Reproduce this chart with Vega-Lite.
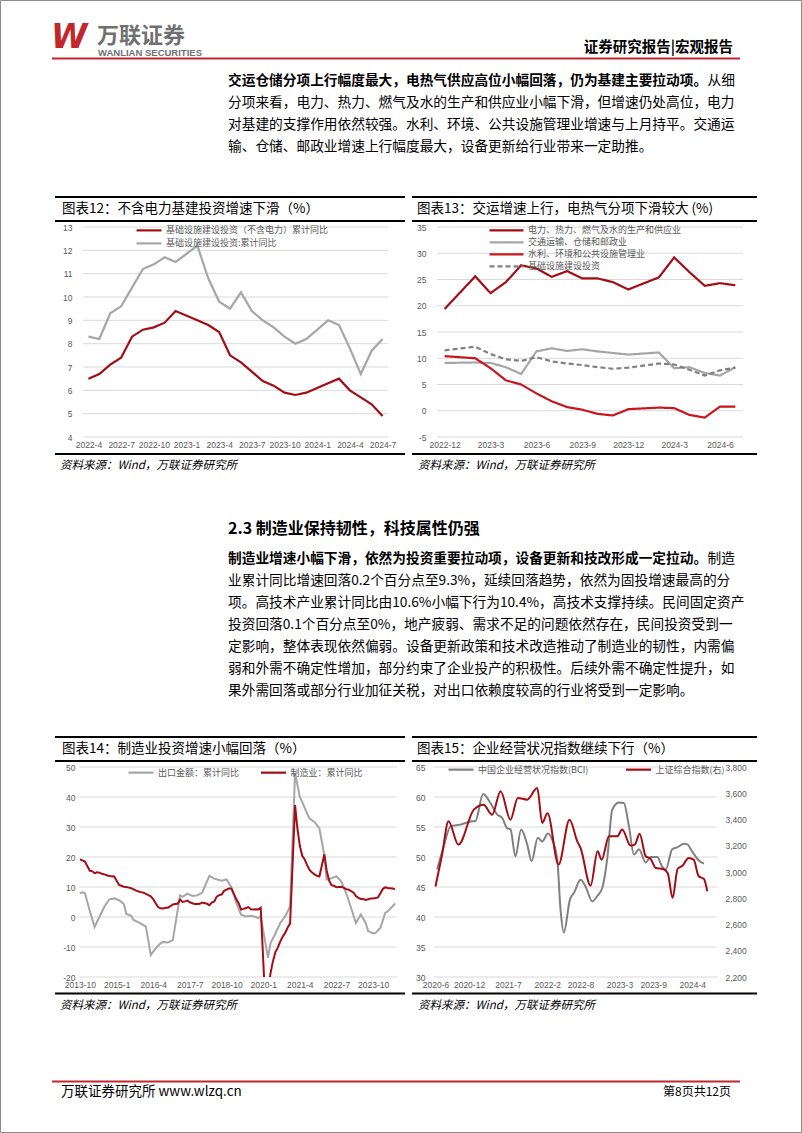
{
"$schema":"https://vega.github.io/schema/vega-lite/v6.json",
"background":"#ffffff","padding":0,"spacing":0,"bounds":"flush","columns":5,
"align":"each",
"resolve":{"scale":{"color":"independent","strokeDash":"independent"},"legend":{"color":"independent","strokeDash":"independent"}},
"config":{"view":{"stroke":null},"font":"Noto Sans CJK SC","text":{"font":"Noto Sans CJK SC"},
"axis":{"labelFont":"Liberation Sans","labelFontSize":8.5,"labelColor":"#595959","ticks":false,"domain":false,"grid":false},
"legend":{"labelFont":"Noto Sans CJK SC","labelFontSize":9,"labelColor":"#595959","symbolStrokeWidth":2.2}},
"concat":[
{"width":55,"height":62,"resolve":{"scale":{"x":"independent","y":"independent"}},
"layer":[
{"data":{"values":[{"p":"page"}]},"mark":{"type":"rect","fill":null,"stroke":"#8c8c8c","strokeWidth":1},
"encoding":{"x":{"datum":"a","type":"nominal","scale":{"type":"point","domain":["a","b"],"range":[0.5,801.5],"padding":0},"axis":null},"x2":{"datum":"b"},"y":{"datum":"a","type":"nominal","scale":{"type":"point","domain":["a","b"],"range":[0.5,1132.5],"padding":0},"axis":null},"y2":{"datum":"b"}}},
{"data":{"values":[{"t":"W"}]},"mark":{"type":"text","align":"left","baseline":"middle","font":"DejaVu Sans","fontWeight":"bold","fontStyle":"italic","fontSize":33,"color":"#c1272d"},
"encoding":{"text":{"field":"t"},"x":{"datum":"a","type":"nominal","scale":{"type":"point","domain":["a","b"],"range":[51,60],"padding":0},"axis":null},"y":{"datum":"a","type":"nominal","scale":{"type":"point","domain":["a","b"],"range":[38,40],"padding":0},"axis":null}}},
{"data":{"values":[{"t":"万联证券"}]},"mark":{"type":"text","align":"left","baseline":"middle","fontWeight":"bold","fontSize":22,"color":"#707070"},
"encoding":{"text":{"field":"t"},"x":{"datum":"a","type":"nominal","scale":{"type":"point","domain":["a","b"],"range":[97,110],"padding":0},"axis":null},"y":{"datum":"a","type":"nominal","scale":{"type":"point","domain":["a","b"],"range":[35.5,40],"padding":0},"axis":null}}},
{"data":{"values":[{"t":"WANLIAN SECURITIES"}]},"mark":{"type":"text","align":"left","baseline":"middle","font":"Liberation Sans","fontWeight":"bold","fontSize":9.5,"color":"#707070"},
"encoding":{"text":{"field":"t"},"x":{"datum":"a","type":"nominal","scale":{"type":"point","domain":["a","b"],"range":[98,110],"padding":0},"axis":null},"y":{"datum":"a","type":"nominal","scale":{"type":"point","domain":["a","b"],"range":[52.5,55],"padding":0},"axis":null}}},
{"data":{"values":[{"t":"证券研究报告|宏观报告"}]},"mark":{"type":"text","align":"right","baseline":"middle","fontWeight":"bold","fontSize":14.5,"color":"#000000"},
"encoding":{"text":{"field":"t"},"x":{"datum":"b","type":"nominal","scale":{"type":"point","domain":["a","b"],"range":[600,733],"padding":0},"axis":null},"y":{"datum":"a","type":"nominal","scale":{"type":"point","domain":["a","b"],"range":[48,52],"padding":0},"axis":null}}},
{"data":{"values":[{"p":"r"}]},"mark":{"type":"rule","color":"#c1272d","strokeWidth":2},
"encoding":{"x":{"datum":"a","type":"nominal","scale":{"type":"point","domain":["a","b"],"range":[52,740],"padding":0},"axis":null},"x2":{"datum":"b"},"y":{"field":"p","type":"nominal","scale":{"type":"point","domain":["r","s"],"range":[58.5,60],"padding":0},"axis":null}}}
]},
{"width":350,"height":62,"data":{"values":[]},"mark":"text"},
{"width":7,"height":62,"data":{"values":[]},"mark":"text"},
{"width":345,"height":62,"data":{"values":[]},"mark":"text"},
{"width":45,"height":62,"data":{"values":[]},"mark":"text"},
{"width":55,"height":133,
"data":{"values":[
{"line":0,"k":"b","t":"交运仓储分项上行幅度最大，电热气供应高位小幅回落，仍为基建主要拉动项。"},
{"line":0,"k":"e","t":"从细"},
{"line":1,"k":"r","t":"分项来看，电力、热力、燃气及水的生产和供应业小幅下滑，但增速仍处高位，电力"},
{"line":2,"k":"r","t":"对基建的支撑作用依然较强。水利、环境、公共设施管理业增速与上月持平。交通运"},
{"line":3,"k":"r","t":"输、仓储、邮政业增速上行幅度最大，设备更新给行业带来一定助推。"}]},
"encoding":{"y":{"field":"line","type":"ordinal","scale":{"type":"point","domain":[0,1,2,3],"range":[19,85],"padding":0},"axis":null},"text":{"field":"t"}},
"layer":[
{"transform":[{"filter":"datum.k === 'b'"}],"mark":{"type":"text","align":"left","baseline":"middle","fontSize":13.7,"fontWeight":"bold","color":"#000000"},
"encoding":{"x":{"datum":"start","type":"nominal","scale":{"type":"point","domain":["start","end"],"range":[228,735],"padding":0},"axis":null}}},
{"transform":[{"filter":"datum.k === 'e'"}],"mark":{"type":"text","align":"right","baseline":"middle","fontSize":13.7,"color":"#000000"},
"encoding":{"x":{"datum":"end","type":"nominal","scale":{"type":"point","domain":["start","end"],"range":[228,735],"padding":0},"axis":null}}},
{"transform":[{"filter":"datum.k === 'r'"}],"mark":{"type":"text","align":"left","baseline":"middle","fontSize":13.7,"color":"#000000"},
"encoding":{"x":{"datum":"start","type":"nominal","scale":{"type":"point","domain":["start","end"],"range":[228,735],"padding":0},"axis":null}}}
]},
{"width":350,"height":133,"data":{"values":[]},"mark":"text"},
{"width":7,"height":133,"data":{"values":[]},"mark":"text"},
{"width":345,"height":133,"data":{"values":[]},"mark":"text"},
{"width":45,"height":133,"data":{"values":[]},"mark":"text"},
{"width":55,"height":32,"data":{"values":[]},"mark":"text"},
{"width":350,"height":32,"layer":[
{"data":{"values":[{"p":"top"},{"p":"bottom"}]},"mark":{"type":"rule","color":"#000000","strokeWidth":2},"encoding":{"y":{"field":"p","type":"nominal","scale":{"type":"point","domain":["top","title","bottom"],"range":[2,26],"padding":0},"axis":null}}},
{"data":{"values":[{"t":"图表12：不含电力基建投资增速下滑（%）","p":"title"}]},"mark":{"type":"text","align":"left","baseline":"middle","fontSize":13.5,"color":"#000000"},
"encoding":{"text":{"field":"t"},"x":{"datum":"start","type":"nominal","scale":{"type":"point","domain":["start","end"],"range":[7,345],"padding":0},"axis":null},"y":{"field":"p","type":"nominal","scale":{"type":"point","domain":["top","title","bottom"],"range":[2,26],"padding":0},"axis":null}}}]},
{"width":7,"height":32,"data":{"values":[]},"mark":"text"},
{"width":345,"height":32,"layer":[
{"data":{"values":[{"p":"top"},{"p":"bottom"}]},"mark":{"type":"rule","color":"#000000","strokeWidth":2},"encoding":{"y":{"field":"p","type":"nominal","scale":{"type":"point","domain":["top","title","bottom"],"range":[2,26],"padding":0},"axis":null}}},
{"data":{"values":[{"t":"图表13：交运增速上行，电热气分项下滑较大 (%)","p":"title"}]},"mark":{"type":"text","align":"left","baseline":"middle","fontSize":13.5,"color":"#000000"},
"encoding":{"text":{"field":"t"},"x":{"datum":"start","type":"nominal","scale":{"type":"point","domain":["start","end"],"range":[5,340],"padding":0},"axis":null},"y":{"field":"p","type":"nominal","scale":{"type":"point","domain":["top","title","bottom"],"range":[2,26],"padding":0},"axis":null}}}]},
{"width":45,"height":32,"data":{"values":[]},"mark":"text"},
{"width":55,"height":210,"data":{"values":[]},"mark":"text"},
{"width":350,"height":210,
"layer":[
{"data":{"values":[{"g":4},{"g":5},{"g":6},{"g":7},{"g":8},{"g":9},{"g":10},{"g":11},{"g":12},{"g":13}]},
"mark":{"type":"rule","color":"#d9d9d9","strokeWidth":1,"xOffset":-5.45,"x2Offset":5.45},
"encoding":{"y":{"field":"g","type":"quantitative","scale":{"domain":[4,13],"nice":false,"zero":false},"axis":{"values":[4,5,6,7,8,9,10,11,12,13],"offset":-28,"labelPadding":11,"title":null}},
"x":{"datum":"2022-4","type":"ordinal","scale":{"type":"point","padding":0.5,"range":[28,333],"domain":["2022-4","2022-5","2022-6","2022-7","2022-8","2022-9","2022-10","2022-11","2022-12","2023-1","2023-2","2023-3","2023-4","2023-5","2023-6","2023-7","2023-8","2023-9","2023-10","2023-11","2023-12","2024-1","2024-2","2024-3","2024-4","2024-5","2024-6","2024-7"]},"axis":{"values":["2022-4","2022-7","2022-10","2023-1","2023-4","2023-7","2023-10","2024-1","2024-4","2024-7"],"labelAngle":0,"labelPadding":3,"title":null}},
"x2":{"datum":"2024-7"}}},
{"data":{"values":[
{"m":"2022-4","s":"基础设施建设投资（不含电力）累计同比","v":6.5},{"m":"2022-5","s":"基础设施建设投资（不含电力）累计同比","v":6.7},{"m":"2022-6","s":"基础设施建设投资（不含电力）累计同比","v":7.1},{"m":"2022-7","s":"基础设施建设投资（不含电力）累计同比","v":7.4},{"m":"2022-8","s":"基础设施建设投资（不含电力）累计同比","v":8.3},{"m":"2022-9","s":"基础设施建设投资（不含电力）累计同比","v":8.6},{"m":"2022-10","s":"基础设施建设投资（不含电力）累计同比","v":8.7},{"m":"2022-11","s":"基础设施建设投资（不含电力）累计同比","v":8.9},{"m":"2022-12","s":"基础设施建设投资（不含电力）累计同比","v":9.4},{"m":"2023-2","s":"基础设施建设投资（不含电力）累计同比","v":9.0},{"m":"2023-3","s":"基础设施建设投资（不含电力）累计同比","v":8.8},{"m":"2023-4","s":"基础设施建设投资（不含电力）累计同比","v":8.5},{"m":"2023-5","s":"基础设施建设投资（不含电力）累计同比","v":7.5},{"m":"2023-6","s":"基础设施建设投资（不含电力）累计同比","v":7.2},{"m":"2023-7","s":"基础设施建设投资（不含电力）累计同比","v":6.8},{"m":"2023-8","s":"基础设施建设投资（不含电力）累计同比","v":6.4},{"m":"2023-9","s":"基础设施建设投资（不含电力）累计同比","v":6.2},{"m":"2023-10","s":"基础设施建设投资（不含电力）累计同比","v":5.9},{"m":"2023-11","s":"基础设施建设投资（不含电力）累计同比","v":5.8},{"m":"2023-12","s":"基础设施建设投资（不含电力）累计同比","v":5.9},{"m":"2024-2","s":"基础设施建设投资（不含电力）累计同比","v":6.3},{"m":"2024-3","s":"基础设施建设投资（不含电力）累计同比","v":6.5},{"m":"2024-4","s":"基础设施建设投资（不含电力）累计同比","v":6.0},{"m":"2024-5","s":"基础设施建设投资（不含电力）累计同比","v":5.7},{"m":"2024-6","s":"基础设施建设投资（不含电力）累计同比","v":5.4},{"m":"2024-7","s":"基础设施建设投资（不含电力）累计同比","v":4.9},
{"m":"2022-4","s":"基础设施建设投资:累计同比","v":8.3},{"m":"2022-5","s":"基础设施建设投资:累计同比","v":8.2},{"m":"2022-6","s":"基础设施建设投资:累计同比","v":9.3},{"m":"2022-7","s":"基础设施建设投资:累计同比","v":9.6},{"m":"2022-8","s":"基础设施建设投资:累计同比","v":10.4},{"m":"2022-9","s":"基础设施建设投资:累计同比","v":11.2},{"m":"2022-10","s":"基础设施建设投资:累计同比","v":11.4},{"m":"2022-11","s":"基础设施建设投资:累计同比","v":11.7},{"m":"2022-12","s":"基础设施建设投资:累计同比","v":11.5},{"m":"2023-2","s":"基础设施建设投资:累计同比","v":12.2},{"m":"2023-3","s":"基础设施建设投资:累计同比","v":10.8},{"m":"2023-4","s":"基础设施建设投资:累计同比","v":9.8},{"m":"2023-5","s":"基础设施建设投资:累计同比","v":9.5},{"m":"2023-6","s":"基础设施建设投资:累计同比","v":10.2},{"m":"2023-7","s":"基础设施建设投资:累计同比","v":9.4},{"m":"2023-8","s":"基础设施建设投资:累计同比","v":9.0},{"m":"2023-9","s":"基础设施建设投资:累计同比","v":8.7},{"m":"2023-10","s":"基础设施建设投资:累计同比","v":8.3},{"m":"2023-11","s":"基础设施建设投资:累计同比","v":8.0},{"m":"2023-12","s":"基础设施建设投资:累计同比","v":8.2},{"m":"2024-2","s":"基础设施建设投资:累计同比","v":9.0},{"m":"2024-3","s":"基础设施建设投资:累计同比","v":8.8},{"m":"2024-4","s":"基础设施建设投资:累计同比","v":7.8},{"m":"2024-5","s":"基础设施建设投资:累计同比","v":6.7},{"m":"2024-6","s":"基础设施建设投资:累计同比","v":7.7},{"m":"2024-7","s":"基础设施建设投资:累计同比","v":8.2}]},
"mark":{"type":"line","strokeWidth":2.2},
"encoding":{
"x":{"field":"m","type":"ordinal","axis":{"values":["2022-4","2022-7","2022-10","2023-1","2023-4","2023-7","2023-10","2024-1","2024-4","2024-7"],"labelAngle":0,"labelPadding":3,"title":null}},
"y":{"field":"v","type":"quantitative","axis":{"values":[4,5,6,7,8,9,10,11,12,13],"offset":-28,"labelPadding":11,"title":null}},
"color":{"field":"s","type":"nominal","scale":{"domain":["基础设施建设投资（不含电力）累计同比","基础设施建设投资:累计同比"],"range":["#a30d15","#a6a6a6"]},
"legend":{"orient":"none","legendX":86.5,"legendY":-4.1,"direction":"vertical","symbolType":"M-2.083,0L2.083,0","symbolSize":144,"labelOffset":9.5,"rowPadding":0,"title":null,"labelLimit":300}}}}
]},
{"width":7,"height":210,"data":{"values":[]},"mark":"text"},
{"width":345,"height":210,
"layer":[
{"data":{"values":[{"g":-5},{"g":0},{"g":5},{"g":10},{"g":15},{"g":20},{"g":25},{"g":30},{"g":35}]},
"mark":{"type":"rule","color":"#d9d9d9","strokeWidth":1,"xOffset":-7.65,"x2Offset":7.65},
"encoding":{"y":{"field":"g","type":"quantitative","scale":{"domain":[-5,35],"nice":false,"zero":false},"axis":{"values":[-5,0,5,10,15,20,25,30,35],"offset":-25,"labelPadding":11,"title":null,"labelExpr":"replace(datum.label, '−', '-')"}},
"x":{"datum":"2022-12","type":"ordinal","scale":{"type":"point","padding":0.5,"range":[25,331],"domain":["2022-12","2023-1","2023-2","2023-3","2023-4","2023-5","2023-6","2023-7","2023-8","2023-9","2023-10","2023-11","2023-12","2024-1","2024-2","2024-3","2024-4","2024-5","2024-6","2024-7"]},"axis":{"values":["2022-12","2023-3","2023-6","2023-9","2023-12","2024-3","2024-6"],"labelAngle":0,"labelPadding":3,"title":null}},
"x2":{"datum":"2024-7"}}},
{"data":{"values":[
{"m":"2022-12","s":"电力、热力、燃气及水的生产和供应业","v":19.4},{"m":"2023-2","s":"电力、热力、燃气及水的生产和供应业","v":25.6},{"m":"2023-3","s":"电力、热力、燃气及水的生产和供应业","v":22.4},{"m":"2023-4","s":"电力、热力、燃气及水的生产和供应业","v":24.5},{"m":"2023-5","s":"电力、热力、燃气及水的生产和供应业","v":27.7},{"m":"2023-6","s":"电力、热力、燃气及水的生产和供应业","v":27.1},{"m":"2023-7","s":"电力、热力、燃气及水的生产和供应业","v":25.5},{"m":"2023-8","s":"电力、热力、燃气及水的生产和供应业","v":26.6},{"m":"2023-9","s":"电力、热力、燃气及水的生产和供应业","v":25.2},{"m":"2023-10","s":"电力、热力、燃气及水的生产和供应业","v":25.2},{"m":"2023-11","s":"电力、热力、燃气及水的生产和供应业","v":24.5},{"m":"2023-12","s":"电力、热力、燃气及水的生产和供应业","v":23.1},{"m":"2024-2","s":"电力、热力、燃气及水的生产和供应业","v":25.4},{"m":"2024-3","s":"电力、热力、燃气及水的生产和供应业","v":29.2},{"m":"2024-4","s":"电力、热力、燃气及水的生产和供应业","v":26.4},{"m":"2024-5","s":"电力、热力、燃气及水的生产和供应业","v":23.8},{"m":"2024-6","s":"电力、热力、燃气及水的生产和供应业","v":24.3},{"m":"2024-7","s":"电力、热力、燃气及水的生产和供应业","v":23.9},
{"m":"2022-12","s":"交通运输、仓储和邮政业","v":9.1},{"m":"2023-2","s":"交通运输、仓储和邮政业","v":9.2},{"m":"2023-3","s":"交通运输、仓储和邮政业","v":9.1},{"m":"2023-4","s":"交通运输、仓储和邮政业","v":8.3},{"m":"2023-5","s":"交通运输、仓储和邮政业","v":7.0},{"m":"2023-6","s":"交通运输、仓储和邮政业","v":11.3},{"m":"2023-7","s":"交通运输、仓储和邮政业","v":11.9},{"m":"2023-8","s":"交通运输、仓储和邮政业","v":11.4},{"m":"2023-9","s":"交通运输、仓储和邮政业","v":11.7},{"m":"2023-10","s":"交通运输、仓储和邮政业","v":11.3},{"m":"2023-11","s":"交通运输、仓储和邮政业","v":11.0},{"m":"2023-12","s":"交通运输、仓储和邮政业","v":10.7},{"m":"2024-2","s":"交通运输、仓储和邮政业","v":11.1},{"m":"2024-3","s":"交通运输、仓储和邮政业","v":8.1},{"m":"2024-4","s":"交通运输、仓储和邮政业","v":8.3},{"m":"2024-5","s":"交通运输、仓储和邮政业","v":7.2},{"m":"2024-6","s":"交通运输、仓储和邮政业","v":6.7},{"m":"2024-7","s":"交通运输、仓储和邮政业","v":8.3},
{"m":"2022-12","s":"水利、环境和公共设施管理业","v":10.4},{"m":"2023-2","s":"水利、环境和公共设施管理业","v":10.0},{"m":"2023-3","s":"水利、环境和公共设施管理业","v":8.1},{"m":"2023-4","s":"水利、环境和公共设施管理业","v":5.8},{"m":"2023-5","s":"水利、环境和公共设施管理业","v":5.0},{"m":"2023-6","s":"水利、环境和公共设施管理业","v":3.3},{"m":"2023-7","s":"水利、环境和公共设施管理业","v":1.8},{"m":"2023-8","s":"水利、环境和公共设施管理业","v":0.7},{"m":"2023-9","s":"水利、环境和公共设施管理业","v":0.2},{"m":"2023-10","s":"水利、环境和公共设施管理业","v":-0.6},{"m":"2023-11","s":"水利、环境和公共设施管理业","v":-0.9},{"m":"2023-12","s":"水利、环境和公共设施管理业","v":0.3},{"m":"2024-2","s":"水利、环境和公共设施管理业","v":0.6},{"m":"2024-3","s":"水利、环境和公共设施管理业","v":0.5},{"m":"2024-4","s":"水利、环境和公共设施管理业","v":-0.8},{"m":"2024-5","s":"水利、环境和公共设施管理业","v":-1.3},{"m":"2024-6","s":"水利、环境和公共设施管理业","v":0.8},{"m":"2024-7","s":"水利、环境和公共设施管理业","v":0.8},
{"m":"2022-12","s":"基础设施建设投资","v":11.5},{"m":"2023-2","s":"基础设施建设投资","v":12.2},{"m":"2023-3","s":"基础设施建设投资","v":10.8},{"m":"2023-4","s":"基础设施建设投资","v":9.8},{"m":"2023-5","s":"基础设施建设投资","v":9.5},{"m":"2023-6","s":"基础设施建设投资","v":10.2},{"m":"2023-7","s":"基础设施建设投资","v":9.4},{"m":"2023-8","s":"基础设施建设投资","v":9.0},{"m":"2023-9","s":"基础设施建设投资","v":8.7},{"m":"2023-10","s":"基础设施建设投资","v":8.3},{"m":"2023-11","s":"基础设施建设投资","v":8.0},{"m":"2023-12","s":"基础设施建设投资","v":8.2},{"m":"2024-2","s":"基础设施建设投资","v":9.0},{"m":"2024-3","s":"基础设施建设投资","v":8.8},{"m":"2024-4","s":"基础设施建设投资","v":7.8},{"m":"2024-5","s":"基础设施建设投资","v":6.7},{"m":"2024-6","s":"基础设施建设投资","v":7.7},{"m":"2024-7","s":"基础设施建设投资","v":8.2}]},
"mark":{"type":"line","strokeWidth":2.2},
"encoding":{
"x":{"field":"m","type":"ordinal","axis":{"values":["2022-12","2023-3","2023-6","2023-9","2023-12","2024-3","2024-6"],"labelAngle":0,"labelPadding":3,"title":null}},
"y":{"field":"v","type":"quantitative","axis":{"values":[-5,0,5,10,15,20,25,30,35],"offset":-25,"labelPadding":11,"title":null,"labelExpr":"replace(datum.label, '−', '-')"}},
"color":{"field":"s","type":"nominal","scale":{"domain":["电力、热力、燃气及水的生产和供应业","交通运输、仓储和邮政业","水利、环境和公共设施管理业","基础设施建设投资"],"range":["#a30d15","#a6a6a6","#c8161d","#7f7f7f"]},
"legend":{"orient":"none","legendX":88,"legendY":-3.1,"direction":"vertical","symbolType":"M-3.4,0L3.4,0","symbolSize":100,"labelOffset":15,"rowPadding":0,"title":null,"labelLimit":300}},
"strokeDash":{"field":"s","type":"nominal","scale":{"domain":["电力、热力、燃气及水的生产和供应业","交通运输、仓储和邮政业","水利、环境和公共设施管理业","基础设施建设投资"],"range":[[1,0],[1,0],[1,0],[5,3]]},
"legend":{"orient":"none","legendX":88,"legendY":-3.1,"direction":"vertical","symbolType":"M-3.4,0L3.4,0","symbolSize":100,"labelOffset":15,"rowPadding":0,"title":null,"labelLimit":300}}}}
]},
{"width":45,"height":210,"data":{"values":[]},"mark":"text"},
{"width":55,"height":38,"data":{"values":[]},"mark":"text"},
{"width":350,"height":38,"layer":[
{"data":{"values":[{"p":"line"}]},"mark":{"type":"rule","color":"#000000","strokeWidth":2},"encoding":{"y":{"field":"p","type":"nominal","scale":{"type":"point","domain":["line","src"],"range":[17,28.5],"padding":0},"axis":null}}},
{"data":{"values":[{"t":"资料来源：Wind，万联证券研究所","p":"src"}]},"mark":{"type":"text","align":"left","baseline":"middle","fontSize":11.5,"fontStyle":"italic","color":"#000000"},
"encoding":{"text":{"field":"t"},"x":{"datum":"start","type":"nominal","scale":{"type":"point","domain":["start","end"],"range":[5,345],"padding":0},"axis":null},"y":{"field":"p","type":"nominal","scale":{"type":"point","domain":["line","src"],"range":[17,28.5],"padding":0},"axis":null}}}]},
{"width":7,"height":38,"data":{"values":[]},"mark":"text"},
{"width":345,"height":38,"layer":[
{"data":{"values":[{"p":"line"}]},"mark":{"type":"rule","color":"#000000","strokeWidth":2},"encoding":{"y":{"field":"p","type":"nominal","scale":{"type":"point","domain":["line","src"],"range":[17,28.5],"padding":0},"axis":null}}},
{"data":{"values":[{"t":"资料来源：Wind，万联证券研究所","p":"src"}]},"mark":{"type":"text","align":"left","baseline":"middle","fontSize":11.5,"fontStyle":"italic","color":"#000000"},
"encoding":{"text":{"field":"t"},"x":{"datum":"start","type":"nominal","scale":{"type":"point","domain":["start","end"],"range":[6,340],"padding":0},"axis":null},"y":{"field":"p","type":"nominal","scale":{"type":"point","domain":["line","src"],"range":[17,28.5],"padding":0},"axis":null}}}]},
{"width":45,"height":38,"data":{"values":[]},"mark":"text"},
{"width":55,"height":260,"resolve":{"scale":{"y":"independent"}},
"layer":[
{"data":{"values":[{"t":"2.3  制造业保持韧性，科技属性仍强"}]},"mark":{"type":"text","align":"left","baseline":"middle","fontSize":16,"fontWeight":"bold","color":"#000000"},
"encoding":{"text":{"field":"t"},"x":{"datum":"start","type":"nominal","scale":{"type":"point","domain":["start","end"],"range":[228,735],"padding":0},"axis":null},"y":{"datum":"h","type":"nominal","scale":{"type":"point","domain":["h","p"],"range":[54,84],"padding":0},"axis":null}}},
{"data":{"values":[
{"line":0,"k":"b","t":"制造业增速小幅下滑，依然为投资重要拉动项，设备更新和技改形成一定拉动。"},
{"line":0,"k":"e","t":"制造"},
{"line":1,"k":"r","t":"业累计同比增速回落0.2个百分点至9.3%，延续回落趋势，依然为固投增速最高的分"},
{"line":2,"k":"r","t":"项。高技术产业累计同比由10.6%小幅下行为10.4%，高技术支撑持续。民间固定资产"},
{"line":3,"k":"r","t":"投资回落0.1个百分点至0%，地产疲弱、需求不足的问题依然存在，民间投资受到一"},
{"line":4,"k":"r","t":"定影响，整体表现依然偏弱。设备更新政策和技术改造推动了制造业的韧性，内需偏"},
{"line":5,"k":"r","t":"弱和外需不确定性增加，部分约束了企业投产的积极性。后续外需不确定性提升，如"},
{"line":6,"k":"r","t":"果外需回落或部分行业加征关税，对出口依赖度较高的行业将受到一定影响。"}]},
"encoding":{"y":{"field":"line","type":"ordinal","scale":{"type":"point","domain":[0,1,2,3,4,5,6],"range":[84,216],"padding":0},"axis":null},"text":{"field":"t"}},
"layer":[
{"transform":[{"filter":"datum.k === 'b'"}],"mark":{"type":"text","align":"left","baseline":"middle","fontSize":13.7,"fontWeight":"bold","color":"#000000"},
"encoding":{"x":{"datum":"start","type":"nominal","scale":{"type":"point","domain":["start","end"],"range":[228,735],"padding":0},"axis":null}}},
{"transform":[{"filter":"datum.k === 'e'"}],"mark":{"type":"text","align":"right","baseline":"middle","fontSize":13.7,"color":"#000000"},
"encoding":{"x":{"datum":"end","type":"nominal","scale":{"type":"point","domain":["start","end"],"range":[228,735],"padding":0},"axis":null}}},
{"transform":[{"filter":"datum.k === 'r'"}],"mark":{"type":"text","align":"left","baseline":"middle","fontSize":13.7,"color":"#000000"},
"encoding":{"x":{"datum":"start","type":"nominal","scale":{"type":"point","domain":["start","end"],"range":[228,735],"padding":0},"axis":null}}}]}
]},
{"width":350,"height":260,"data":{"values":[]},"mark":"text"},
{"width":7,"height":260,"data":{"values":[]},"mark":"text"},
{"width":345,"height":260,"data":{"values":[]},"mark":"text"},
{"width":45,"height":260,"data":{"values":[]},"mark":"text"},
{"width":55,"height":32,"data":{"values":[]},"mark":"text"},
{"width":350,"height":32,"layer":[
{"data":{"values":[{"p":"top"},{"p":"bottom"}]},"mark":{"type":"rule","color":"#000000","strokeWidth":2},"encoding":{"y":{"field":"p","type":"nominal","scale":{"type":"point","domain":["top","title","bottom"],"range":[2,26],"padding":0},"axis":null}}},
{"data":{"values":[{"t":"图表14：制造业投资增速小幅回落（%）","p":"title"}]},"mark":{"type":"text","align":"left","baseline":"middle","fontSize":13.5,"color":"#000000"},
"encoding":{"text":{"field":"t"},"x":{"datum":"start","type":"nominal","scale":{"type":"point","domain":["start","end"],"range":[7,345],"padding":0},"axis":null},"y":{"field":"p","type":"nominal","scale":{"type":"point","domain":["top","title","bottom"],"range":[2,26],"padding":0},"axis":null}}}]},
{"width":7,"height":32,"data":{"values":[]},"mark":"text"},
{"width":345,"height":32,"layer":[
{"data":{"values":[{"p":"top"},{"p":"bottom"}]},"mark":{"type":"rule","color":"#000000","strokeWidth":2},"encoding":{"y":{"field":"p","type":"nominal","scale":{"type":"point","domain":["top","title","bottom"],"range":[2,26],"padding":0},"axis":null}}},
{"data":{"values":[{"t":"图表15：企业经营状况指数继续下行（%）","p":"title"}]},"mark":{"type":"text","align":"left","baseline":"middle","fontSize":13.5,"color":"#000000"},
"encoding":{"text":{"field":"t"},"x":{"datum":"start","type":"nominal","scale":{"type":"point","domain":["start","end"],"range":[5,340],"padding":0},"axis":null},"y":{"field":"p","type":"nominal","scale":{"type":"point","domain":["top","title","bottom"],"range":[2,26],"padding":0},"axis":null}}}]},
{"width":45,"height":32,"data":{"values":[]},"mark":"text"},
{"width":55,"height":210,"data":{"values":[]},"mark":"text"},
{"width":350,"height":210,
"layer":[
{"data":{"values":[{"g":-20},{"g":-10},{"g":0},{"g":10},{"g":20},{"g":30},{"g":40},{"g":50}]},
"mark":{"type":"rule","color":"#d9d9d9","strokeWidth":1},
"encoding":{"y":{"field":"g","type":"quantitative","scale":{"domain":[-20,50],"nice":false,"zero":false},"axis":{"values":[-20,-10,0,10,20,30,40,50],"offset":-24,"labelPadding":4,"title":null,"labelExpr":"replace(datum.label, '−', '-')"}},
"x":{"datum":{"year":2013,"month":9,"date":19},"type":"temporal","scale":{"range":[24,342],"domain":[{"year":2013,"month":9,"date":19},{"year":2024,"month":7,"date":25}]},"axis":{"values":[{"year":2013,"month":10,"date":1},{"year":2015,"month":1,"date":1},{"year":2016,"month":4,"date":1},{"year":2017,"month":7,"date":1},{"year":2018,"month":10,"date":1},{"year":2020,"month":1,"date":1},{"year":2021,"month":4,"date":1},{"year":2022,"month":7,"date":1},{"year":2023,"month":10,"date":1}],"format":"%Y-%-m","labelAngle":0,"labelPadding":3,"labelOverlap":false,"labelFlush":false,"title":null}},
"x2":{"datum":{"year":2024,"month":7,"date":25}}}},
{"data":{"values":[
{"d":"2013/10/01","s":"出口金额：累计同比","v":7.9},{"d":"2013/11/01","s":"出口金额：累计同比","v":8.2},{"d":"2013/12/01","s":"出口金额：累计同比","v":8.0},{"d":"2014/02/01","s":"出口金额：累计同比","v":2.0},{"d":"2014/04/01","s":"出口金额：累计同比","v":-3.3},{"d":"2014/06/01","s":"出口金额：累计同比","v":0.1},{"d":"2014/08/01","s":"出口金额：累计同比","v":3.4},{"d":"2014/10/01","s":"出口金额：累计同比","v":5.9},{"d":"2014/12/01","s":"出口金额：累计同比","v":6.2},{"d":"2015/02/01","s":"出口金额：累计同比","v":5.6},{"d":"2015/04/01","s":"出口金额：累计同比","v":4.3},{"d":"2015/05/01","s":"出口金额：累计同比","v":1.0},{"d":"2015/07/01","s":"出口金额：累计同比","v":0.4},{"d":"2015/08/01","s":"出口金额：累计同比","v":-1.0},{"d":"2015/10/01","s":"出口金额：累计同比","v":-1.8},{"d":"2015/12/01","s":"出口金额：累计同比","v":-2.7},{"d":"2016/01/01","s":"出口金额：累计同比","v":-3.2},{"d":"2016/03/01","s":"出口金额：累计同比","v":-12.7},{"d":"2016/05/01","s":"出口金额：累计同比","v":-10.5},{"d":"2016/07/01","s":"出口金额：累计同比","v":-8.8},{"d":"2016/08/01","s":"出口金额：累计同比","v":-8.3},{"d":"2016/10/01","s":"出口金额：累计同比","v":-8.5},{"d":"2016/12/01","s":"出口金额：累计同比","v":-7.7},{"d":"2017/03/01","s":"出口金额：累计同比","v":7.2},{"d":"2017/04/01","s":"出口金额：累计同比","v":6.7},{"d":"2017/06/01","s":"出口金额：累计同比","v":7.8},{"d":"2017/08/01","s":"出口金额：累计同比","v":7.0},{"d":"2017/10/01","s":"出口金额：累计同比","v":7.2},{"d":"2017/12/01","s":"出口金额：累计同比","v":8.1},{"d":"2018/03/01","s":"出口金额：累计同比","v":13.7},{"d":"2018/05/01","s":"出口金额：累计同比","v":12.8},{"d":"2018/08/01","s":"出口金额：累计同比","v":12.1},{"d":"2018/10/01","s":"出口金额：累计同比","v":12.5},{"d":"2018/11/01","s":"出口金额：累计同比","v":11.2},{"d":"2018/12/01","s":"出口金额：累计同比","v":9.9},{"d":"2019/02/01","s":"出口金额：累计同比","v":4.5},{"d":"2019/04/01","s":"出口金额：累计同比","v":0.8},{"d":"2019/06/01","s":"出口金额：累计同比","v":0.2},{"d":"2019/08/01","s":"出口金额：累计同比","v":0.4},{"d":"2019/10/01","s":"出口金额：累计同比","v":0.0},{"d":"2019/11/01","s":"出口金额：累计同比","v":-0.4},{"d":"2019/12/01","s":"出口金额：累计同比","v":0.3},{"d":"2020/03/01","s":"出口金额：累计同比","v":-13.6},{"d":"2020/04/01","s":"出口金额：累计同比","v":-8.8},{"d":"2020/06/01","s":"出口金额：累计同比","v":-5.5},{"d":"2020/08/01","s":"出口金额：累计同比","v":-2.0},{"d":"2020/10/01","s":"出口金额：累计同比","v":0.2},{"d":"2020/12/01","s":"出口金额：累计同比","v":3.5},{"d":"2021/02/01","s":"出口金额：累计同比","v":48.0},{"d":"2021/04/01","s":"出口金额：累计同比","v":40.0},{"d":"2021/05/01","s":"出口金额：累计同比","v":38.4},{"d":"2021/07/01","s":"出口金额：累计同比","v":34.5},{"d":"2021/08/01","s":"出口金额：累计同比","v":32.8},{"d":"2021/10/01","s":"出口金额：累计同比","v":31.7},{"d":"2021/12/01","s":"出口金额：累计同比","v":29.5},{"d":"2022/02/01","s":"出口金额：累计同比","v":20.6},{"d":"2022/03/01","s":"出口金额：累计同比","v":12.5},{"d":"2022/05/01","s":"出口金额：累计同比","v":12.9},{"d":"2022/07/01","s":"出口金额：累计同比","v":13.6},{"d":"2022/09/01","s":"出口金额：累计同比","v":11.8},{"d":"2022/11/01","s":"出口金额：累计同比","v":7.9},{"d":"2023/01/01","s":"出口金额：累计同比","v":2.9},{"d":"2023/03/01","s":"出口金额：累计同比","v":-2.0},{"d":"2023/05/01","s":"出口金额：累计同比","v":0.8},{"d":"2023/07/01","s":"出口金额：累计同比","v":-2.0},{"d":"2023/08/01","s":"出口金额：累计同比","v":-4.7},{"d":"2023/10/01","s":"出口金额：累计同比","v":-5.5},{"d":"2023/11/01","s":"出口金额：累计同比","v":-5.3},{"d":"2024/01/01","s":"出口金额：累计同比","v":-3.6},{"d":"2024/03/01","s":"出口金额：累计同比","v":1.4},{"d":"2024/04/01","s":"出口金额：累计同比","v":1.9},{"d":"2024/06/01","s":"出口金额：累计同比","v":3.6},{"d":"2024/07/01","s":"出口金额：累计同比","v":4.5}]},
"mark":{"type":"line","strokeWidth":2,"clip":true},
"encoding":{
"x":{"field":"d","type":"temporal","axis":{"values":[{"year":2013,"month":10,"date":1},{"year":2015,"month":1,"date":1},{"year":2016,"month":4,"date":1},{"year":2017,"month":7,"date":1},{"year":2018,"month":10,"date":1},{"year":2020,"month":1,"date":1},{"year":2021,"month":4,"date":1},{"year":2022,"month":7,"date":1},{"year":2023,"month":10,"date":1}],"format":"%Y-%-m","labelAngle":0,"labelPadding":3,"labelOverlap":false,"labelFlush":false,"title":null}},
"y":{"field":"v","type":"quantitative","axis":{"values":[-20,-10,0,10,20,30,40,50],"offset":-24,"labelPadding":4,"title":null,"labelExpr":"replace(datum.label, '−', '-')"}},
"color":{"field":"s","type":"nominal","scale":{"domain":["出口金额：累计同比","制造业：累计同比"],"range":["#a6a6a6","#a30d15"]},"legend":{"orient":"none","legendX":78.5,"legendY":-2.1,"direction":"horizontal","symbolType":"M-2.083,0L2.083,0","symbolSize":144,"labelOffset":9.5,"columnPadding":16.5,"title":null,"labelLimit":300}}}},
{"data":{"values":[
{"d":"2013/10/01","s":"制造业：累计同比","v":19.2},{"d":"2013/11/01","s":"制造业：累计同比","v":18.9},{"d":"2013/12/01","s":"制造业：累计同比","v":18.5},{"d":"2014/02/01","s":"制造业：累计同比","v":15.4},{"d":"2014/03/01","s":"制造业：累计同比","v":15.3},{"d":"2014/04/01","s":"制造业：累计同比","v":14.6},{"d":"2014/05/01","s":"制造业：累计同比","v":14.9},{"d":"2014/06/01","s":"制造业：累计同比","v":14.8},{"d":"2014/07/01","s":"制造业：累计同比","v":14.4},{"d":"2014/08/01","s":"制造业：累计同比","v":14.2},{"d":"2014/09/01","s":"制造业：累计同比","v":13.9},{"d":"2014/10/01","s":"制造业：累计同比","v":13.7},{"d":"2014/11/01","s":"制造业：累计同比","v":13.6},{"d":"2014/12/01","s":"制造业：累计同比","v":13.5},
{"d":"2015/02/01","s":"制造业：累计同比","v":10.7},{"d":"2015/03/01","s":"制造业：累计同比","v":10.4},{"d":"2015/04/01","s":"制造业：累计同比","v":10.1},{"d":"2015/05/01","s":"制造业：累计同比","v":10.0},{"d":"2015/06/01","s":"制造业：累计同比","v":9.8},{"d":"2015/07/01","s":"制造业：累计同比","v":9.6},{"d":"2015/08/01","s":"制造业：累计同比","v":9.2},{"d":"2015/09/01","s":"制造业：累计同比","v":8.8},{"d":"2015/10/01","s":"制造业：累计同比","v":8.5},{"d":"2015/11/01","s":"制造业：累计同比","v":8.3},{"d":"2015/12/01","s":"制造业：累计同比","v":8.1},
{"d":"2016/02/01","s":"制造业：累计同比","v":7.3},{"d":"2016/03/01","s":"制造业：累计同比","v":6.9},{"d":"2016/04/01","s":"制造业：累计同比","v":6.0},{"d":"2016/05/01","s":"制造业：累计同比","v":4.6},{"d":"2016/06/01","s":"制造业：累计同比","v":3.3},{"d":"2016/07/01","s":"制造业：累计同比","v":2.9},{"d":"2016/08/01","s":"制造业：累计同比","v":2.8},{"d":"2016/09/01","s":"制造业：累计同比","v":3.1},{"d":"2016/10/01","s":"制造业：累计同比","v":3.1},{"d":"2016/11/01","s":"制造业：累计同比","v":3.6},{"d":"2016/12/01","s":"制造业：累计同比","v":4.2},
{"d":"2017/02/01","s":"制造业：累计同比","v":4.5},{"d":"2017/03/01","s":"制造业：累计同比","v":5.8},{"d":"2017/04/01","s":"制造业：累计同比","v":5.0},{"d":"2017/05/01","s":"制造业：累计同比","v":5.2},{"d":"2017/06/01","s":"制造业：累计同比","v":5.5},{"d":"2017/07/01","s":"制造业：累计同比","v":4.9},{"d":"2017/08/01","s":"制造业：累计同比","v":4.6},{"d":"2017/09/01","s":"制造业：累计同比","v":4.3},{"d":"2017/10/01","s":"制造业：累计同比","v":4.3},{"d":"2017/11/01","s":"制造业：累计同比","v":4.4},{"d":"2017/12/01","s":"制造业：累计同比","v":4.8},
{"d":"2018/02/01","s":"制造业：累计同比","v":4.4},{"d":"2018/03/01","s":"制造业：累计同比","v":3.9},{"d":"2018/04/01","s":"制造业：累计同比","v":4.8},{"d":"2018/05/01","s":"制造业：累计同比","v":5.2},{"d":"2018/06/01","s":"制造业：累计同比","v":6.8},{"d":"2018/07/01","s":"制造业：累计同比","v":7.3},{"d":"2018/08/01","s":"制造业：累计同比","v":7.5},{"d":"2018/09/01","s":"制造业：累计同比","v":8.7},{"d":"2018/10/01","s":"制造业：累计同比","v":9.1},{"d":"2018/11/01","s":"制造业：累计同比","v":9.5},{"d":"2018/12/01","s":"制造业：累计同比","v":9.5},
{"d":"2019/02/01","s":"制造业：累计同比","v":5.9},{"d":"2019/03/01","s":"制造业：累计同比","v":4.6},{"d":"2019/04/01","s":"制造业：累计同比","v":2.5},{"d":"2019/05/01","s":"制造业：累计同比","v":2.7},{"d":"2019/06/01","s":"制造业：累计同比","v":3.0},{"d":"2019/07/01","s":"制造业：累计同比","v":3.3},{"d":"2019/08/01","s":"制造业：累计同比","v":2.6},{"d":"2019/09/01","s":"制造业：累计同比","v":2.5},{"d":"2019/10/01","s":"制造业：累计同比","v":2.6},{"d":"2019/11/01","s":"制造业：累计同比","v":2.5},{"d":"2019/12/01","s":"制造业：累计同比","v":3.1},
{"d":"2020/02/01","s":"制造业：累计同比","v":-31.5},{"d":"2020/03/01","s":"制造业：累计同比","v":-25.2},{"d":"2020/04/01","s":"制造业：累计同比","v":-18.8},{"d":"2020/05/01","s":"制造业：累计同比","v":-14.8},{"d":"2020/06/01","s":"制造业：累计同比","v":-11.7},{"d":"2020/07/01","s":"制造业：累计同比","v":-10.2},{"d":"2020/08/01","s":"制造业：累计同比","v":-8.1},{"d":"2020/09/01","s":"制造业：累计同比","v":-6.5},{"d":"2020/10/01","s":"制造业：累计同比","v":-5.3},{"d":"2020/11/01","s":"制造业：累计同比","v":-3.5},{"d":"2020/12/01","s":"制造业：累计同比","v":-2.2},
{"d":"2021/02/01","s":"制造业：累计同比","v":37.3},{"d":"2021/03/01","s":"制造业：累计同比","v":29.8},{"d":"2021/04/01","s":"制造业：累计同比","v":23.8},{"d":"2021/05/01","s":"制造业：累计同比","v":20.4},{"d":"2021/06/01","s":"制造业：累计同比","v":19.2},{"d":"2021/07/01","s":"制造业：累计同比","v":17.3},{"d":"2021/08/01","s":"制造业：累计同比","v":15.7},{"d":"2021/09/01","s":"制造业：累计同比","v":14.8},{"d":"2021/10/01","s":"制造业：累计同比","v":14.2},{"d":"2021/11/01","s":"制造业：累计同比","v":13.7},{"d":"2021/12/01","s":"制造业：累计同比","v":13.5},
{"d":"2022/02/01","s":"制造业：累计同比","v":20.9},{"d":"2022/03/01","s":"制造业：累计同比","v":15.6},{"d":"2022/04/01","s":"制造业：累计同比","v":12.2},{"d":"2022/05/01","s":"制造业：累计同比","v":10.6},{"d":"2022/06/01","s":"制造业：累计同比","v":10.4},{"d":"2022/07/01","s":"制造业：累计同比","v":9.9},{"d":"2022/08/01","s":"制造业：累计同比","v":10.0},{"d":"2022/09/01","s":"制造业：累计同比","v":10.1},{"d":"2022/10/01","s":"制造业：累计同比","v":9.7},{"d":"2022/11/01","s":"制造业：累计同比","v":9.3},{"d":"2022/12/01","s":"制造业：累计同比","v":9.1},
{"d":"2023/02/01","s":"制造业：累计同比","v":8.1},{"d":"2023/03/01","s":"制造业：累计同比","v":7.0},{"d":"2023/04/01","s":"制造业：累计同比","v":6.4},{"d":"2023/05/01","s":"制造业：累计同比","v":6.0},{"d":"2023/06/01","s":"制造业：累计同比","v":6.0},{"d":"2023/07/01","s":"制造业：累计同比","v":5.7},{"d":"2023/08/01","s":"制造业：累计同比","v":5.9},{"d":"2023/09/01","s":"制造业：累计同比","v":6.2},{"d":"2023/10/01","s":"制造业：累计同比","v":6.2},{"d":"2023/11/01","s":"制造业：累计同比","v":6.3},{"d":"2023/12/01","s":"制造业：累计同比","v":6.5},
{"d":"2024/02/01","s":"制造业：累计同比","v":9.4},{"d":"2024/03/01","s":"制造业：累计同比","v":9.9},{"d":"2024/04/01","s":"制造业：累计同比","v":9.7},{"d":"2024/05/01","s":"制造业：累计同比","v":9.6},{"d":"2024/06/01","s":"制造业：累计同比","v":9.5},{"d":"2024/07/01","s":"制造业：累计同比","v":9.3}]},
"mark":{"type":"line","strokeWidth":2,"clip":true},
"encoding":{
"x":{"field":"d","type":"temporal","axis":{"values":[{"year":2013,"month":10,"date":1},{"year":2015,"month":1,"date":1},{"year":2016,"month":4,"date":1},{"year":2017,"month":7,"date":1},{"year":2018,"month":10,"date":1},{"year":2020,"month":1,"date":1},{"year":2021,"month":4,"date":1},{"year":2022,"month":7,"date":1},{"year":2023,"month":10,"date":1}],"format":"%Y-%-m","labelAngle":0,"labelPadding":3,"labelOverlap":false,"labelFlush":false,"title":null}},
"y":{"field":"v","type":"quantitative","axis":{"values":[-20,-10,0,10,20,30,40,50],"offset":-24,"labelPadding":4,"title":null,"labelExpr":"replace(datum.label, '−', '-')"}},
"color":{"field":"s","type":"nominal","scale":{"domain":["出口金额：累计同比","制造业：累计同比"],"range":["#a6a6a6","#a30d15"]},"legend":{"orient":"none","legendX":78.5,"legendY":-2.1,"direction":"horizontal","symbolType":"M-2.083,0L2.083,0","symbolSize":144,"labelOffset":9.5,"columnPadding":16.5,"title":null,"labelLimit":300}}}}
]},
{"width":7,"height":210,"data":{"values":[]},"mark":"text"},
{"width":345,"height":210,"resolve":{"scale":{"y":"independent"}},
"layer":[
{"data":{"values":[{"g":30},{"g":35},{"g":40},{"g":45},{"g":50},{"g":55},{"g":60},{"g":65}]},
"mark":{"type":"rule","color":"#d9d9d9","strokeWidth":1},
"encoding":{"y":{"field":"g","type":"quantitative","scale":{"domain":[30,65],"nice":false,"zero":false},"axis":null},
"x":{"datum":{"year":2020,"month":5,"date":24},"type":"temporal","scale":{"range":[22,305],"domain":[{"year":2020,"month":5,"date":24},{"year":2024,"month":8,"date":14}]},"axis":{"values":[{"year":2020,"month":6,"date":1},{"year":2020,"month":12,"date":1},{"year":2021,"month":7,"date":1},{"year":2022,"month":2,"date":1},{"year":2022,"month":8,"date":1},{"year":2023,"month":3,"date":1},{"year":2023,"month":9,"date":1},{"year":2024,"month":4,"date":1}],"format":"%Y-%-m","labelAngle":0,"labelPadding":3,"labelOverlap":false,"labelFlush":false,"title":null}},
"x2":{"datum":{"year":2024,"month":8,"date":14}}}},
{"data":{"values":[
{"d":"2020/06/10","s":"中国企业经营状况指数(BCI)","v":47.9},{"d":"2020/07/16","s":"中国企业经营状况指数(BCI)","v":51.8},{"d":"2020/08/22","s":"中国企业经营状况指数(BCI)","v":55.1},{"d":"2020/10/15","s":"中国企业经营状况指数(BCI)","v":55.4},{"d":"2020/12/09","s":"中国企业经营状况指数(BCI)","v":55.9},{"d":"2021/01/05","s":"中国企业经营状况指数(BCI)","v":56.0},{"d":"2021/02/16","s":"中国企业经营状况指数(BCI)","v":60.5},{"d":"2021/03/28","s":"中国企业经营状况指数(BCI)","v":59.0},{"d":"2021/05/03","s":"中国企业经营状况指数(BCI)","v":57.1},{"d":"2021/05/31","s":"中国企业经营状况指数(BCI)","v":56.5},{"d":"2021/06/27","s":"中国企业经营状况指数(BCI)","v":54.8},{"d":"2021/07/15","s":"中国企业经营状况指数(BCI)","v":54.6},{"d":"2021/08/11","s":"中国企业经营状况指数(BCI)","v":50.1},{"d":"2021/09/11","s":"中国企业经营状况指数(BCI)","v":54.6},{"d":"2021/10/14","s":"中国企业经营状况指数(BCI)","v":52.1},{"d":"2021/11/07","s":"中国企业经营状况指数(BCI)","v":49.3},{"d":"2021/12/11","s":"中国企业经营状况指数(BCI)","v":53.2},{"d":"2022/01/04","s":"中国企业经营状况指数(BCI)","v":52.6},{"d":"2022/02/04","s":"中国企业经营状况指数(BCI)","v":53.9},{"d":"2022/02/27","s":"中国企业经营状况指数(BCI)","v":52.9},{"d":"2022/03/27","s":"中国企业经营状况指数(BCI)","v":49.6},{"d":"2022/04/14","s":"中国企业经营状况指数(BCI)","v":41.2},{"d":"2022/05/02","s":"中国企业经营状况指数(BCI)","v":37.4},{"d":"2022/06/04","s":"中国企业经营状况指数(BCI)","v":42.9},{"d":"2022/06/26","s":"中国企业经营状况指数(BCI)","v":44.0},{"d":"2022/08/01","s":"中国企业经营状况指数(BCI)","v":46.2},{"d":"2022/08/28","s":"中国企业经营状况指数(BCI)","v":45.1},{"d":"2022/10/04","s":"中国企业经营状况指数(BCI)","v":42.6},{"d":"2022/10/31","s":"中国企业经营状况指数(BCI)","v":43.5},{"d":"2022/11/27","s":"中国企业经营状况指数(BCI)","v":44.8},{"d":"2022/12/24","s":"中国企业经营状况指数(BCI)","v":49.6},{"d":"2023/01/21","s":"中国企业经营状况指数(BCI)","v":57.9},{"d":"2023/02/26","s":"中国企业经营状况指数(BCI)","v":59.1},{"d":"2023/03/25","s":"中国企业经营状况指数(BCI)","v":59.0},{"d":"2023/04/22","s":"中国企业经营状况指数(BCI)","v":55.1},{"d":"2023/05/19","s":"中国企业经营状况指数(BCI)","v":50.4},{"d":"2023/06/15","s":"中国企业经营状况指数(BCI)","v":51.3},{"d":"2023/07/22","s":"中国企业经营状况指数(BCI)","v":49.1},{"d":"2023/08/18","s":"中国企业经营状况指数(BCI)","v":50.0},{"d":"2023/09/23","s":"中国企业经营状况指数(BCI)","v":50.0},{"d":"2023/10/20","s":"中国企业经营状况指数(BCI)","v":48.4},{"d":"2023/11/08","s":"中国企业经营状况指数(BCI)","v":47.9},{"d":"2023/12/14","s":"中国企业经营状况指数(BCI)","v":51.3},{"d":"2024/01/10","s":"中国企业经营状况指数(BCI)","v":51.6},{"d":"2024/02/16","s":"中国企业经营状况指数(BCI)","v":52.2},{"d":"2024/03/05","s":"中国企业经营状况指数(BCI)","v":52.1},{"d":"2024/04/01","s":"中国企业经营状况指数(BCI)","v":50.9},{"d":"2024/05/07","s":"中国企业经营状况指数(BCI)","v":49.4},{"d":"2024/06/04","s":"中国企业经营状况指数(BCI)","v":48.9}]},
"mark":{"type":"line","strokeWidth":2,"interpolate":"monotone"},
"encoding":{
"x":{"field":"d","type":"temporal","axis":{"values":[{"year":2020,"month":6,"date":1},{"year":2020,"month":12,"date":1},{"year":2021,"month":7,"date":1},{"year":2022,"month":2,"date":1},{"year":2022,"month":8,"date":1},{"year":2023,"month":3,"date":1},{"year":2023,"month":9,"date":1},{"year":2024,"month":4,"date":1}],"format":"%Y-%-m","labelAngle":0,"labelPadding":3,"labelOverlap":false,"labelFlush":false,"title":null}},
"y":{"field":"v","type":"quantitative","scale":{"domain":[30,65],"nice":false,"zero":false},"axis":{"orient":"left","values":[30,35,40,45,50,55,60,65],"offset":-22,"labelPadding":9,"title":null}},
"color":{"field":"s","type":"nominal","scale":{"domain":["中国企业经营状况指数(BCI)","上证综合指数(右)"],"range":["#808080","#a30d15"]},"legend":{"orient":"none","legendX":41.5,"legendY":-5.1,"direction":"horizontal","symbolType":"M-2.083,0L2.083,0","symbolSize":144,"labelOffset":9.5,"columnPadding":32.5,"title":null,"labelLimit":300}}}},
{"data":{"values":[
{"d":"2020/06/01","s":"上证综合指数(右)","v":2890},{"d":"2020/07/07","s":"上证综合指数(右)","v":3132},{"d":"2020/08/11","s":"上证综合指数(右)","v":3386},{"d":"2020/10/04","s":"上证综合指数(右)","v":3209},{"d":"2020/12/27","s":"上证综合指数(右)","v":3475},{"d":"2021/02/18","s":"上证综合指数(右)","v":3513},{"d":"2021/04/06","s":"上证综合指数(右)","v":3437},{"d":"2021/05/22","s":"上证综合指数(右)","v":3615},{"d":"2021/07/15","s":"上证综合指数(右)","v":3399},{"d":"2021/08/24","s":"上证综合指数(右)","v":3564},{"d":"2021/10/14","s":"上证综合指数(右)","v":3551},{"d":"2021/12/08","s":"上证综合指数(右)","v":3640},{"d":"2022/01/04","s":"上证综合指数(右)","v":3374},{"d":"2022/02/02","s":"上证综合指数(右)","v":3447},{"d":"2022/04/03","s":"上证综合指数(右)","v":3056},{"d":"2022/06/02","s":"上证综合指数(右)","v":3399},{"d":"2022/07/14","s":"上证综合指数(右)","v":3234},{"d":"2022/08/01","s":"上证综合指数(右)","v":3183},{"d":"2022/09/25","s":"上证综合指数(右)","v":2896},{"d":"2022/11/02","s":"上证综合指数(右)","v":3158},{"d":"2022/11/24","s":"上证综合指数(右)","v":3094},{"d":"2023/01/03","s":"上证综合指数(右)","v":3272},{"d":"2023/02/17","s":"上证综合指数(右)","v":3272},{"d":"2023/03/16","s":"上证综合指数(右)","v":3323},{"d":"2023/05/01","s":"上证综合指数(右)","v":3201},{"d":"2023/05/24","s":"上证综合指数(右)","v":3209},{"d":"2023/06/19","s":"上证综合指数(右)","v":3292},{"d":"2023/07/22","s":"上证综合指数(右)","v":3120},{"d":"2023/08/18","s":"上证综合指数(右)","v":3100},{"d":"2023/09/14","s":"上证综合指数(右)","v":3031},{"d":"2023/10/24","s":"上证综合指数(右)","v":3023},{"d":"2023/11/19","s":"上证综合指数(右)","v":2993},{"d":"2023/12/16","s":"上证综合指数(右)","v":2803},{"d":"2024/01/12","s":"上证综合指数(右)","v":3023},{"d":"2024/02/09","s":"上证综合指数(右)","v":3049},{"d":"2024/03/12","s":"上证综合指数(右)","v":3107},{"d":"2024/04/09","s":"上证综合指数(右)","v":3094},{"d":"2024/05/06","s":"上证综合指数(右)","v":2967},{"d":"2024/06/04","s":"上证综合指数(右)","v":2947},{"d":"2024/06/22","s":"上证综合指数(右)","v":2853}]},
"mark":{"type":"line","strokeWidth":2,"interpolate":"monotone"},
"encoding":{
"x":{"field":"d","type":"temporal","axis":{"values":[{"year":2020,"month":6,"date":1},{"year":2020,"month":12,"date":1},{"year":2021,"month":7,"date":1},{"year":2022,"month":2,"date":1},{"year":2022,"month":8,"date":1},{"year":2023,"month":3,"date":1},{"year":2023,"month":9,"date":1},{"year":2024,"month":4,"date":1}],"format":"%Y-%-m","labelAngle":0,"labelPadding":3,"labelOverlap":false,"labelFlush":false,"title":null}},
"y":{"field":"v","type":"quantitative","scale":{"domain":[2200,3800],"nice":false,"zero":false},"axis":{"orient":"right","values":[2200,2400,2600,2800,3000,3200,3400,3600,3800],"labelExpr":"format(datum.value, ',')","offset":-40,"labelPadding":8,"title":null}},
"color":{"field":"s","type":"nominal","scale":{"domain":["中国企业经营状况指数(BCI)","上证综合指数(右)"],"range":["#808080","#a30d15"]},"legend":{"orient":"none","legendX":41.5,"legendY":-5.1,"direction":"horizontal","symbolType":"M-2.083,0L2.083,0","symbolSize":144,"labelOffset":9.5,"columnPadding":32.5,"title":null,"labelLimit":300}}}}
]},
{"width":45,"height":210,"data":{"values":[]},"mark":"text"},
{"width":55,"height":38,"data":{"values":[]},"mark":"text"},
{"width":350,"height":38,"layer":[
{"data":{"values":[{"p":"line"}]},"mark":{"type":"rule","color":"#000000","strokeWidth":2},"encoding":{"y":{"field":"p","type":"nominal","scale":{"type":"point","domain":["line","src"],"range":[16.5,28.5],"padding":0},"axis":null}}},
{"data":{"values":[{"t":"资料来源：Wind，万联证券研究所","p":"src"}]},"mark":{"type":"text","align":"left","baseline":"middle","fontSize":11.5,"fontStyle":"italic","color":"#000000"},
"encoding":{"text":{"field":"t"},"x":{"datum":"start","type":"nominal","scale":{"type":"point","domain":["start","end"],"range":[5,345],"padding":0},"axis":null},"y":{"field":"p","type":"nominal","scale":{"type":"point","domain":["line","src"],"range":[16.5,28.5],"padding":0},"axis":null}}}]},
{"width":7,"height":38,"data":{"values":[]},"mark":"text"},
{"width":345,"height":38,"layer":[
{"data":{"values":[{"p":"line"}]},"mark":{"type":"rule","color":"#000000","strokeWidth":2},"encoding":{"y":{"field":"p","type":"nominal","scale":{"type":"point","domain":["line","src"],"range":[16.5,28.5],"padding":0},"axis":null}}},
{"data":{"values":[{"t":"资料来源：Wind，万联证券研究所","p":"src"}]},"mark":{"type":"text","align":"left","baseline":"middle","fontSize":11.5,"fontStyle":"italic","color":"#000000"},
"encoding":{"text":{"field":"t"},"x":{"datum":"start","type":"nominal","scale":{"type":"point","domain":["start","end"],"range":[6,340],"padding":0},"axis":null},"y":{"field":"p","type":"nominal","scale":{"type":"point","domain":["line","src"],"range":[16.5,28.5],"padding":0},"axis":null}}}]},
{"width":45,"height":38,"data":{"values":[]},"mark":"text"},
{"width":55,"height":118,"resolve":{"scale":{"x":"independent"}},
"layer":[
{"data":{"values":[{"p":"r"}]},"mark":{"type":"rule","color":"#c1272d","strokeWidth":2},
"encoding":{"x":{"datum":"a","type":"nominal","scale":{"type":"point","domain":["a","b"],"range":[52,740],"padding":0},"axis":null},"x2":{"datum":"b"},"y":{"field":"p","type":"nominal","scale":{"type":"point","domain":["r","t"],"range":[66.5,77],"padding":0},"axis":null}}},
{"data":{"values":[{"t":"万联证券研究所 www.wlzq.cn","p":"t","k":"a"},{"t":"第8页共12页","p":"t","k":"b"}]},
"encoding":{"text":{"field":"t"},"y":{"field":"p","type":"nominal","scale":{"type":"point","domain":["r","t"],"range":[66.5,77],"padding":0},"axis":null},"x":{"field":"k","type":"nominal","scale":{"type":"point","domain":["a","b"],"range":[61,731],"padding":0},"axis":null}},
"layer":[
{"transform":[{"filter":"datum.k === 'a'"}],"mark":{"type":"text","align":"left","baseline":"middle","fontSize":13.5,"color":"#000000"}},
{"transform":[{"filter":"datum.k === 'b'"}],"mark":{"type":"text","align":"right","baseline":"middle","fontSize":12,"color":"#000000"}}]}
]},
{"width":350,"height":118,"data":{"values":[]},"mark":"text"},
{"width":7,"height":118,"data":{"values":[]},"mark":"text"},
{"width":345,"height":118,"data":{"values":[]},"mark":"text"},
{"width":45,"height":118,"data":{"values":[]},"mark":"text"}
]}
